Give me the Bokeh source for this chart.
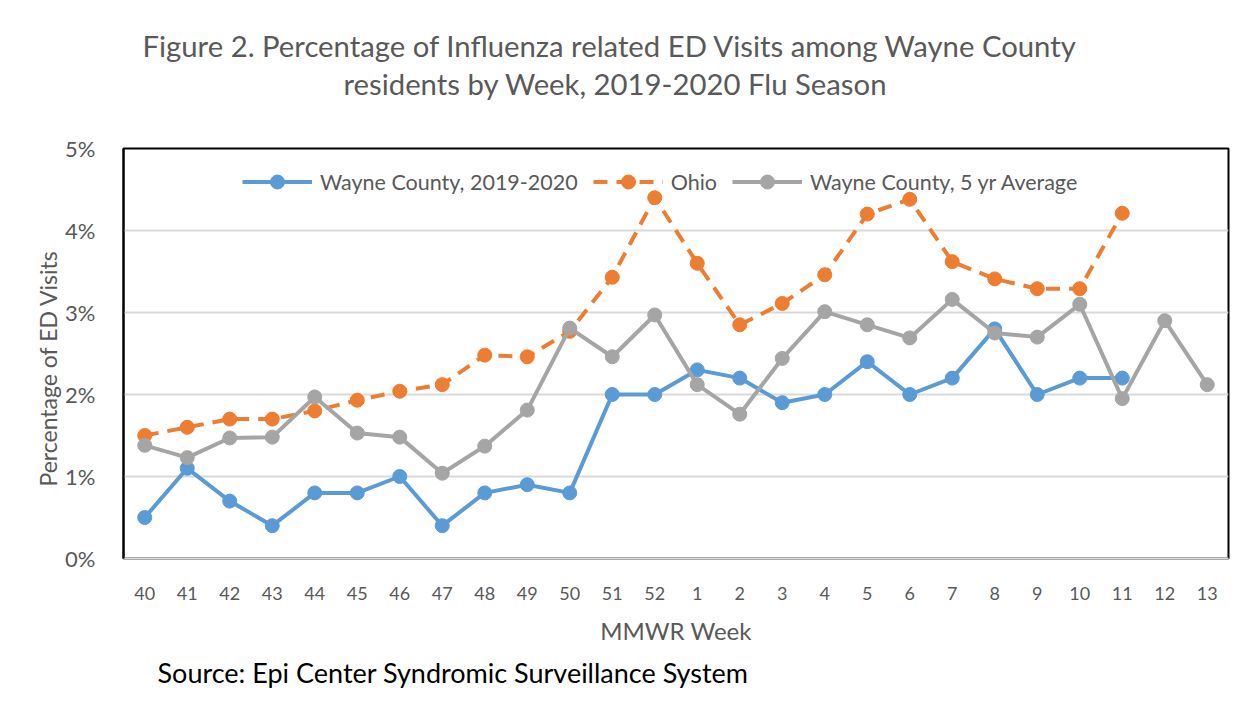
from bokeh.plotting import figure
from bokeh.models import Title, FixedTicker, PrintfTickFormatter, FactorRange, Range1d
from bokeh.embed import file_html
from bokeh.resources import INLINE

weeks = ["40", "41", "42", "43", "44", "45", "46", "47", "48", "49", "50", "51", "52",
         "1", "2", "3", "4", "5", "6", "7", "8", "9", "10", "11", "12", "13"]
wayne_2019_2020 = [0.5, 1.1, 0.7, 0.4, 0.8, 0.8, 1.0, 0.4, 0.8, 0.9, 0.8, 2.0, 2.0,
                   2.3, 2.2, 1.9, 2.0, 2.4, 2.0, 2.2, 2.8, 2.0, 2.2, 2.2]
ohio = [1.5, 1.6, 1.7, 1.7, 1.8, 1.93, 2.04, 2.12, 2.48, 2.46, 2.77, 3.43, 4.40,
        3.60, 2.85, 3.11, 3.46, 4.20, 4.38, 3.62, 3.41, 3.29, 3.29, 4.21]
wayne_5yr_avg = [1.38, 1.23, 1.47, 1.48, 1.97, 1.53, 1.48, 1.04, 1.37, 1.81, 2.81, 2.46, 2.97,
                 2.12, 1.76, 2.44, 3.01, 2.85, 2.69, 3.16, 2.75, 2.70, 3.10, 1.95, 2.90, 2.12]
y_ticks = [0, 1, 2, 3, 4, 5]

FONT = "Lato"
GREY_TXT = "#595959"

p = figure(width=1245, height=716, x_range=FactorRange(*weeks, range_padding=0),
           y_range=Range1d(0, 5), output_backend="svg", toolbar_location=None,
           min_border_left=123, min_border_right=17, min_border_top=148, min_border_bottom=158)

p.title.text = "Figure 2. Percentage of Influenza related ED Visits among Wayne County"
p.title.align = "left"
p.title.offset = 19
p.title.text_font = FONT
p.title.text_font_size = "29.3px"
p.title.text_font_style = "normal"
p.title.text_color = GREY_TXT
p.title.standoff = 0

spacer = Title(text=" ", text_font_size="1px", standoff=44)
p.add_layout(spacer, "above")

t2 = Title(text="residents by Week, 2019-2020 Flu Season",
           align="left", offset=220, text_font=FONT, text_font_size="29.3px",
           text_font_style="normal", text_color=GREY_TXT, standoff=2)
p.add_layout(t2, "above")

src = Title(text="Source: Epi Center Syndromic Surveillance System", align="left", offset=34,
            text_font=FONT, text_font_size="27px", text_font_style="normal",
            text_color="black", standoff=12)
p.add_layout(src, "below")

blue = "#5B9BD5"
orange = "#ED7D31"
grey = "#A5A5A5"

n1 = len(wayne_2019_2020)
n2 = len(ohio)
p.line(weeks[:n1], wayne_2019_2020, line_color=blue, line_width=4, legend_label="Wayne County, 2019-2020")
p.scatter(weeks[:n1], wayne_2019_2020, size=14, fill_color=blue, line_color=blue, legend_label="Wayne County, 2019-2020")
p.line(weeks[:n2], ohio, line_color=orange, line_width=4, line_dash="14 9", legend_label="Ohio")
p.scatter(weeks[:n2], ohio, size=14, fill_color=orange, line_color=orange, legend_label="Ohio")
p.line(weeks, wayne_5yr_avg, line_color=grey, line_width=4, legend_label="Wayne County, 5 yr Average")
p.scatter(weeks, wayne_5yr_avg, size=14, fill_color=grey, line_color=grey, legend_label="Wayne County, 5 yr Average")

p.outline_line_color = "black"
p.outline_line_width = 2

p.xgrid.grid_line_color = None
p.ygrid.grid_line_color = "#D9D9D9"
p.ygrid.grid_line_width = 2

p.yaxis.ticker = FixedTicker(ticks=y_ticks)
p.yaxis.formatter = PrintfTickFormatter(format="%d%%")
p.yaxis.axis_line_color = "black"
p.yaxis.axis_line_width = 2
p.xaxis.axis_line_color = "#D9D9D9"
p.xaxis.axis_line_width = 2
for ax in (p.xaxis, p.yaxis):
    ax.major_tick_line_color = None
    ax.minor_tick_line_color = None
    ax.major_label_text_font = FONT
    ax.major_label_text_color = GREY_TXT
    ax.axis_label_text_font = FONT
    ax.axis_label_text_font_size = "24px"
    ax.axis_label_text_font_style = "normal"
    ax.axis_label_text_color = GREY_TXT

p.xaxis.major_label_text_font_size = "18px"
p.yaxis.major_label_text_font_size = "22px"
p.xaxis.axis_label = "MMWR Week"
p.xaxis.major_label_standoff = 22
p.xaxis.axis_label_standoff = 13
p.yaxis.major_label_standoff = 22

ylab = Title(text="Percentage of ED Visits", align="left", offset=72,
             text_font=FONT, text_font_size="23px", text_font_style="normal",
             text_color=GREY_TXT, standoff=2)
p.add_layout(ylab, "left")

p.legend.orientation = "horizontal"
p.legend.location = (119, 359)
p.legend.border_line_color = None
p.legend.background_fill_alpha = 0
p.legend.label_text_font = FONT
p.legend.label_text_font_size = "21.5px"
p.legend.label_text_color = GREY_TXT
p.legend.glyph_width = 70
p.legend.glyph_height = 35
p.legend.label_standoff = 8
p.legend.spacing = 15
p.legend.margin = 0
p.legend.padding = 10

open("out.html", "w").write(file_html(p, INLINE))
